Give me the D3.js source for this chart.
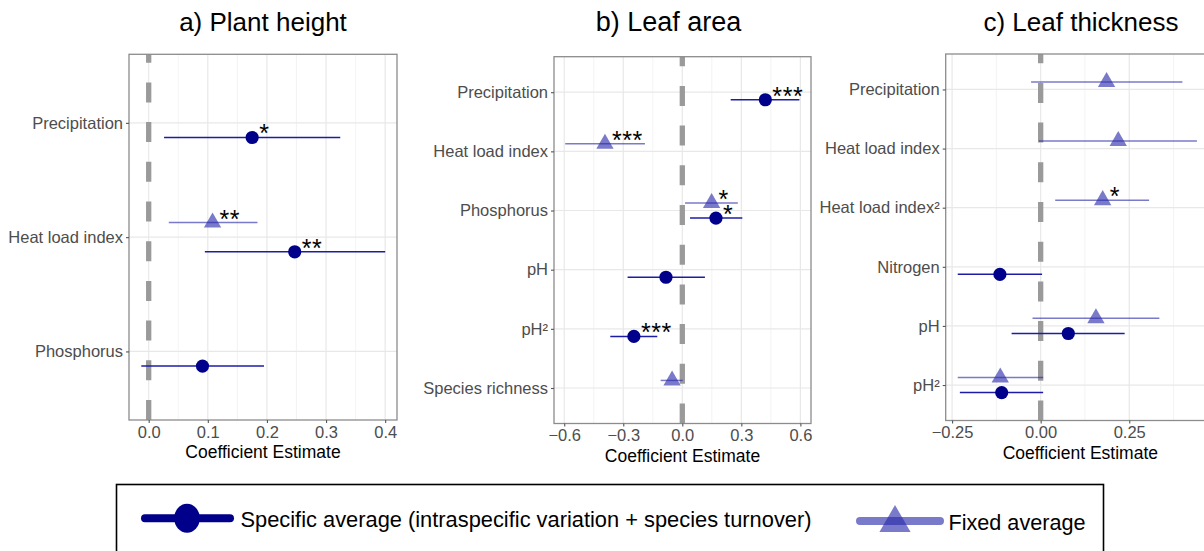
<!DOCTYPE html>
<html>
<head>
<meta charset="utf-8">
<script src="https://cdnjs.cloudflare.com/ajax/libs/d3/7.8.5/d3.min.js"></script>
<style>
  html, body { margin: 0; padding: 0; background: #fff; }
  svg { display: block; font-family: "Liberation Sans", Arial, Helvetica, sans-serif; }
</style>
</head>
<body>
<svg id="chart" width="1204" height="551"></svg>
<script>
// Rows: [term, estimate, lower CI, upper CI, significance stars]

// a) Plant height
const heightTerms = ["Precipitation", "Heat load index", "Phosphorus"];
const heightSpecific = [
  ["Precipitation", 0.175, 0.026, 0.324, "*"],
  ["Heat load index", 0.247, 0.095, 0.400, "**"],
  ["Phosphorus", 0.091, -0.0125, 0.195, ""]
];
const heightFixed = [
  ["Heat load index", 0.108, 0.034, 0.184, "**"]
];
const heightTicks = [0, 0.1, 0.2, 0.3, 0.4];

// b) Leaf area
const areaTerms = ["Precipitation", "Heat load index", "Phosphorus", "pH", "pH²", "Species richness"];
const areaSpecific = [
  ["Precipitation", 0.422, 0.246, 0.595, "***"],
  ["Phosphorus", 0.171, 0.039, 0.305, "*"],
  ["pH", -0.083, -0.278, 0.115, ""],
  ["pH²", -0.246, -0.366, -0.127, "***"]
];
const areaFixed = [
  ["Heat load index", -0.393, -0.595, -0.190, "***"],
  ["Phosphorus", 0.149, 0.014, 0.282, "*"],
  ["Species richness", -0.052, -0.110, 0.002, ""]
];
const areaTicks = [-0.6, -0.3, 0, 0.3, 0.6];

// c) Leaf thickness
const thicknessTerms = ["Precipitation", "Heat load index", "Heat load index²", "Nitrogen", "pH", "pH²"];
const thicknessSpecific = [
  ["Nitrogen", -0.115, -0.234, 0.004, ""],
  ["pH", 0.078, -0.082, 0.237, ""],
  ["pH²", -0.110, -0.228, 0.007, ""]
];
const thicknessFixed = [
  ["Precipitation", 0.186, -0.027, 0.400, ""],
  ["Heat load index", 0.219, -0.005, 0.441, ""],
  ["Heat load index²", 0.175, 0.041, 0.306, "*"],
  ["pH", 0.156, -0.023, 0.335, ""],
  ["pH²", -0.114, -0.234, 0.007, ""]
];
const thicknessTicks = [-0.25, 0, 0.25];

const legendLabels = ["Specific average (intraspecific variation + species turnover)", "Fixed average"];

const SPECIFIC = "#00008B";
const SPECIFIC_BAR = "#1c1ca6";
const FIXED = "rgb(40,40,170)";
const FIXED_OPACITY = 0.62;

const svg = d3.select("#chart");
const minus = s => s.replace("-", "\u2212");

function drawPanel(cfg) {
  const g = svg.append("g");
  const x = d3.scaleLinear().domain(cfg.domain).range([cfg.left, cfg.right]);
  const y = d3.scalePoint().domain(cfg.terms).range([cfg.top, cfg.bottom]).padding(0.6);
  const dodge = y.step() * 0.128;

  // minor + major vertical grid
  const step = cfg.ticks[1] - cfg.ticks[0];
  const minor = [];
  for (let v = cfg.ticks[0] - step / 2; v <= cfg.domain[1]; v += step) {
    if (v >= cfg.domain[0]) minor.push(v);
  }
  g.selectAll(".minor").data(minor).join("line")
    .attr("x1", d => x(d)).attr("x2", d => x(d))
    .attr("y1", cfg.top).attr("y2", cfg.bottom)
    .attr("stroke", "#f0f0f0").attr("stroke-width", 0.8);
  g.selectAll(".majorx").data(cfg.ticks).join("line")
    .attr("x1", d => x(d)).attr("x2", d => x(d))
    .attr("y1", cfg.top).attr("y2", cfg.bottom)
    .attr("stroke", "#e8e8e8").attr("stroke-width", 1.2);
  g.selectAll(".majory").data(cfg.terms).join("line")
    .attr("x1", cfg.left).attr("x2", cfg.right)
    .attr("y1", d => y(d)).attr("y2", d => y(d))
    .attr("stroke", "#e8e8e8").attr("stroke-width", 1.2);

  // zero reference line, dashes laid from the bottom up
  g.append("line")
    .attr("x1", x(0)).attr("x2", x(0))
    .attr("y1", cfg.bottom).attr("y2", cfg.top)
    .attr("stroke", "#9a9a9a").attr("stroke-width", 5.3)
    .attr("stroke-dasharray", "20,19.7");

  const drawSeries = (rows, kind) => {
    const off = kind === "fixed" ? -dodge : dodge;
    const sg = g.append("g");
    sg.selectAll("line").data(rows).join("line")
      .attr("x1", d => x(d[2])).attr("x2", d => x(d[3]))
      .attr("y1", d => y(d[0]) + off).attr("y2", d => y(d[0]) + off)
      .attr("stroke", kind === "fixed" ? FIXED : SPECIFIC_BAR)
      .attr("stroke-opacity", kind === "fixed" ? FIXED_OPACITY : 1)
      .attr("stroke-width", 1.5);
    if (kind === "fixed") {
      sg.selectAll("path").data(rows).join("path")
        .attr("d", d3.symbol(d3.symbolTriangle, 130)())
        .attr("transform", d => `translate(${x(d[1])},${y(d[0]) + off})`)
        .attr("fill", FIXED).attr("fill-opacity", FIXED_OPACITY);
    } else {
      sg.selectAll("circle").data(rows).join("circle")
        .attr("cx", d => x(d[1])).attr("cy", d => y(d[0]) + off)
        .attr("r", 6.6).attr("fill", SPECIFIC);
    }
    sg.selectAll("text").data(rows.filter(d => d[4])).join("text")
      .attr("x", d => x(d[1]) + 7).attr("y", d => y(d[0]) + off + 5)
      .attr("font-size", 25).attr("fill", "#000")
      .attr("letter-spacing", 0.6)
      .text(d => d[4]);
  };
  drawSeries(cfg.fixed, "fixed");
  drawSeries(cfg.specific, "specific");

  // panel border
  g.append("rect")
    .attr("x", cfg.left).attr("y", cfg.top)
    .attr("width", cfg.right - cfg.left).attr("height", cfg.bottom - cfg.top)
    .attr("fill", "none").attr("stroke", "#8c8c8c").attr("stroke-width", 1.3);

  // axes
  const xa = g.append("g").attr("transform", `translate(0,${cfg.bottom})`)
    .call(d3.axisBottom(x).tickValues(cfg.ticks).tickSize(3).tickPadding(3)
      .tickFormat(d => minus(d3.format(cfg.fmt)(d))));
  const ya = g.append("g").attr("transform", `translate(${cfg.left},0)`)
    .call(d3.axisLeft(y).tickSize(3).tickPadding(3));
  [xa, ya].forEach(a => {
    a.select(".domain").remove();
    a.selectAll(".tick line").attr("stroke", "#555").attr("stroke-width", 1.1);
    a.selectAll(".tick text").attr("fill", "#4d4d4d").attr("font-size", 16.5)
      .attr("font-family", null);
  });

  g.append("text")
    .attr("x", (cfg.left + cfg.right) / 2).attr("y", cfg.bottom + 38)
    .attr("text-anchor", "middle").attr("font-size", 17.5).attr("fill", "#000")
    .text("Coefficient Estimate");

  g.append("text")
    .attr("x", cfg.titleX).attr("y", 31)
    .attr("text-anchor", "middle").attr("font-size", cfg.titleSize).attr("fill", "#000")
    .text(cfg.title);
}

drawPanel({
  left: 129, right: 397, top: 54.3, bottom: 420,
  domain: [-0.0333, 0.42], ticks: heightTicks, fmt: ".1f",
  terms: heightTerms, specific: heightSpecific, fixed: heightFixed,
  title: "a) Plant height", titleX: 263, titleSize: 26
});
drawPanel({
  left: 554, right: 811, top: 56.7, bottom: 423.5,
  domain: [-0.652, 0.654], ticks: areaTicks, fmt: ".1f",
  terms: areaTerms, specific: areaSpecific, fixed: areaFixed,
  title: "b) Leaf area", titleX: 668.5, titleSize: 27
});
drawPanel({
  left: 945.7, right: 1215, top: 54, bottom: 420.5,
  domain: [-0.268, 0.492], ticks: thicknessTicks, fmt: ".2f",
  terms: thicknessTerms, specific: thicknessSpecific, fixed: thicknessFixed,
  title: "c) Leaf thickness", titleX: 1081, titleSize: 26
});

// legend
const lg = svg.append("g");
lg.append("rect")
  .attr("x", 116.5).attr("y", 484.5).attr("width", 987).attr("height", 90)
  .attr("fill", "none").attr("stroke", "#000").attr("stroke-width", 1.6);

lg.append("line")
  .attr("x1", 145).attr("x2", 230).attr("y1", 518.3).attr("y2", 518.3)
  .attr("stroke", SPECIFIC).attr("stroke-width", 8).attr("stroke-linecap", "round");
lg.append("ellipse")
  .attr("cx", 187).attr("cy", 518.3).attr("rx", 12.8).attr("ry", 14.5)
  .attr("fill", SPECIFIC);
lg.append("text")
  .attr("x", 240.5).attr("y", 526.5).attr("font-size", 22)
  .attr("textLength", 571).attr("lengthAdjust", "spacingAndGlyphs")
  .text(legendLabels[0]);

lg.append("line")
  .attr("x1", 860).attr("x2", 940).attr("y1", 521).attr("y2", 521)
  .attr("stroke", FIXED).attr("stroke-opacity", FIXED_OPACITY)
  .attr("stroke-width", 8).attr("stroke-linecap", "round");
lg.append("path")
  .attr("d", d3.symbol(d3.symbolTriangle, 420)())
  .attr("transform", "translate(895,523)")
  .attr("fill", FIXED).attr("fill-opacity", FIXED_OPACITY);
lg.append("text")
  .attr("x", 948.5).attr("y", 530).attr("font-size", 22)
  .attr("textLength", 137).attr("lengthAdjust", "spacingAndGlyphs")
  .text(legendLabels[1]);
</script>
</body>
</html>
